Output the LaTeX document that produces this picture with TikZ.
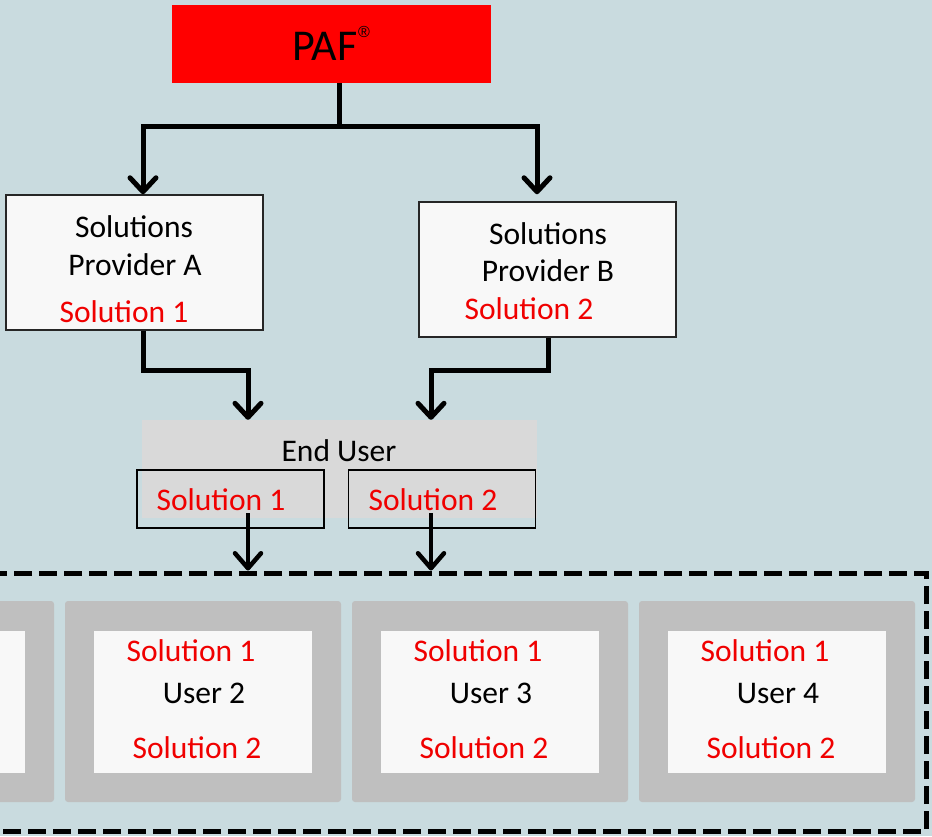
\documentclass[tikz,border=0pt]{standalone}
\usepackage{fontspec}
\setmainfont{Carlito}
\newfontfamily\regfont{Liberation Sans}
\usetikzlibrary{arrows.meta}
\definecolor{bg}{HTML}{C9DBDF}
\definecolor{pafred}{HTML}{FF0000}
\definecolor{soltxt}{HTML}{F00000}
\definecolor{eugray}{HTML}{D9D9D9}
\definecolor{panelgray}{HTML}{BFBFBF}
\definecolor{boxwhite}{HTML}{F8F8F8}
\begin{document}
\begin{tikzpicture}[x=1pt,y=-1pt,
  txt/.style={inner sep=0pt,anchor=base,font=\fontsize{31.5}{36}\selectfont,text=black},
  redtxt/.style={txt,text=soltxt},
  provbox/.style={draw=black!85,line width=1.5pt,fill=boxwhite,inner sep=0pt,minimum width=257pt,minimum height=135pt},
  solbox/.style={draw=black,line width=1.8pt,inner sep=0pt,minimum width=187pt,minimum height=58pt},
  panel/.style={fill=panelgray,rounded corners=3pt,inner sep=0pt,minimum width=276pt,minimum height=201pt},
  inner/.style={fill=boxwhite,inner sep=0pt,minimum width=218pt,minimum height=142pt},
  conn/.style={line width=5pt,line join=miter},
  arr/.style={conn,-{Straight Barb[length=14pt,width=26pt,round]}},
  arrsmall/.style={line width=4.5pt,-{Straight Barb[length=15pt,width=26pt,round]}}
]
\fill[bg] (0,0) rectangle (932,836);
\useasboundingbox (0,0) rectangle (932,836);

% PAF
\node[fill=pafred,inner sep=0pt,minimum width=319pt,minimum height=78pt] (P) at (331.5,44) {};
\node[inner sep=0pt,anchor=base,font=\fontsize{44}{48}\selectfont] (Pt) at (331,60) {PAF\kern1pt\raisebox{23pt}{\regfont\fontsize{16}{16}\selectfont ®}};

% Providers
\node[provbox] (A) at (134.5,262.5) {};
\node[txt] (At1) at (134,237) {Solutions};
\node[txt] (At2) at (135,275) {Provider A};
\node[redtxt] (At3) at (124,322) {Solution 1};

\node[provbox] (B) at (547.5,269.5) {};
\node[txt] (Bt1) at (548,244) {Solutions};
\node[txt] (Bt2) at (548,281) {Provider B};
\node[redtxt] (Bt3) at (529,319) {Solution 2};

% End user
\node[fill=eugray,inner sep=0pt,minimum width=395pt,minimum height=98pt] (EU) at (339.5,469) {};
\node[txt] (EUt) at (339,461) {End User};
\node[solbox] (S1) at (230.5,499) {};
\node[solbox] (S2) at (442,499) {};
\node[redtxt] (S1t) at (221,510) {Solution 1};
\node[redtxt] (S2t) at (433,510) {Solution 2};

% Users region
\node[draw=black,line width=5pt,dash pattern=on 18pt off 7pt,inner sep=0pt,minimum width=948pt,minimum height=258pt] (D) at (452,702) {};

\node[panel] (U1) at (-84,701.5) {};
\node[inner] (I1) at (-84,702) {};
\foreach \L/\n in {65/2,352/3,639/4}{
  \node[panel] (U\n) at (\L+138,701.5) {};
  \node[inner] (I\n) at (\L+138,702) {};
  \node[redtxt] (U\n a) at (\L+126,661) {Solution 1};
  \node[txt] (U\n b) at (\L+139,703) {User \n};
  \node[redtxt] (U\n c) at (\L+132,758) {Solution 2};
}

% connectors
\coordinate (pj) at (339,126);
\coordinate (a1) at (143,0);
\coordinate (b1) at (537,0);
\draw[conn] (P.south -| pj) -- (pj);
\draw[arr] (pj) -| (A.north -| a1);
\draw[arr,shorten >=7pt] (pj) -| (B.north -| b1);

\coordinate (ja) at (248,370);
\coordinate (jb) at (431,370);
\coordinate (a2) at (143,0);
\coordinate (b2) at (548,0);
\draw[arr] (A.south -| a2) |- (ja) -- (EU.north -| ja);
\draw[arr] (B.south -| b2) |- (jb) -- (EU.north -| jb);

\coordinate (s1a) at (248,513);
\coordinate (s2a) at (431,513);
\draw[arrsmall] (s1a) -- (D.north -| s1a);
\draw[arrsmall] (s2a) -- (D.north -| s2a);
\end{tikzpicture}
\end{document}
